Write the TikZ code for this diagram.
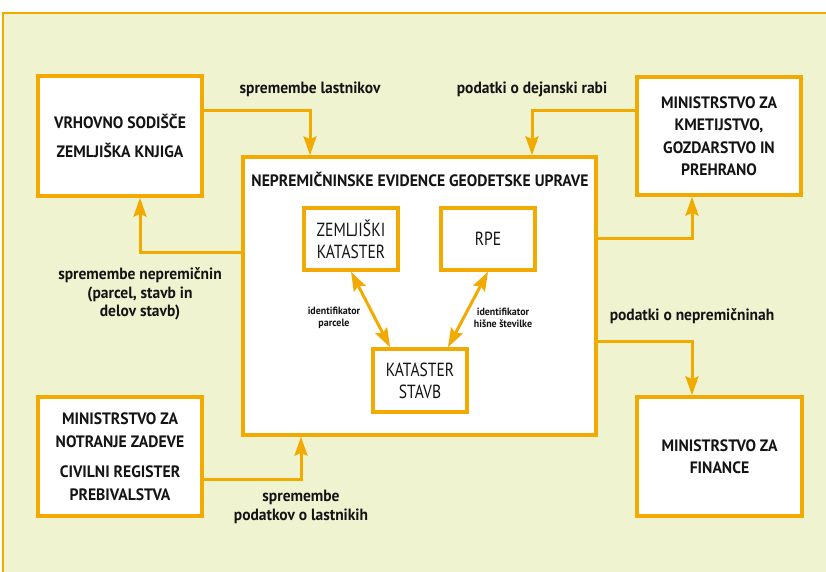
\documentclass[tikz,border=0pt]{standalone}
\usepackage{fontspec}
\usepackage{tikz}
\usetikzlibrary{arrows.meta}
\setmainfont{PT Sans}
\newfontfamily\labelfont[FakeStretch=0.95]{PT Sans}
\newfontfamily\thinfont[FakeStretch=0.82]{PT Sans}
\definecolor{gold}{RGB}{242,169,0}
\definecolor{paper}{RGB}{239,243,208}
\definecolor{ink}{RGB}{20,20,20}

\begin{document}
\begin{tikzpicture}[x=1pt,y=-1pt,
    outer/.style={draw=gold,line width=3.5pt,fill=white,inner sep=0pt,align=center,text=ink,
      font=\labelfont\bfseries\fontsize{16.5}{22.5}\selectfont},
    inner/.style={draw=gold,line width=3.5pt,fill=white,inner sep=0pt,minimum width=94pt,
      minimum height=62pt,align=center,text=ink,font=\thinfont\fontsize{19}{22}\selectfont},
    lbl/.style={align=center,text=ink,font=\labelfont\bfseries\fontsize{16.3}{18.5}\selectfont},
    small/.style={align=center,text=ink,font=\labelfont\bfseries\fontsize{10.5}{12}\selectfont},
    link/.style={draw=gold,line width=3pt,-{Stealth[length=19pt,width=13pt,inset=3pt]}},
    both/.style={draw=gold,line width=3pt,
      {Stealth[length=19pt,width=13pt,inset=3pt]}-{Stealth[length=19pt,width=13pt,inset=3pt]}}]
  \useasboundingbox (0,0) rectangle (826,572);
  \clip (0,0) rectangle (826,572);
  \draw[gold,line width=1.2pt,fill=paper] (3,13) rectangle (850,600);

  \node[outer,minimum width=164pt,minimum height=120pt] (vs) at (120,136)
    {VRHOVNO SODIŠČE\\[6.5pt]ZEMLJIŠKA KNJIGA};
  \node[outer,minimum width=164pt,minimum height=118pt] (mkgp) at (719,136)
    {MINISTRSTVO ZA\\KMETIJSTVO,\\GOZDARSTVO IN\\PREHRANO};
  \node[outer,minimum width=164pt,minimum height=119pt] (mnz) at (120,456.5)
    {MINISTRSTVO ZA\\NOTRANJE ZADEVE\\[8pt]CIVILNI REGISTER\\PREBIVALSTVA};
  \node[outer,minimum width=165pt,minimum height=119pt] (mf) at (719.5,456.5)
    {MINISTRSTVO ZA\\FINANCE};
  \node[outer,minimum width=353pt,minimum height=278pt] (gu) at (419.5,296) {};
  \node[outer,draw=none,fill=none] (naslov) at (420,179)
    {NEPREMIČNINSKE EVIDENCE GEODETSKE UPRAVE};

  \node[inner] (zk) at (351,239) {ZEMLJIŠKI\\KATASTER};
  \node[inner] (rpe) at (488,239) {RPE};
  \node[inner,minimum height=63pt] (ks) at (420,380.5) {KATASTER\\STAVB};

  \node[lbl] (lsl) at (310,89) {spremembe lastnikov};
  \node[lbl] (ldr) at (532,89) {podatki o dejanski rabi};
  \node[lbl] (lsn) at (140,294) {spremembe nepremičnin\\(parcel, stavb in\\delov stavb)};
  \node[lbl] (lsp) at (301,507) {spremembe\\podatkov o lastnikih};
  \node[lbl] (lnp) at (692,316) {podatki o nepremičninah};
  \node[small] (lip) at (334,318) {identifikator\\parcele};
  \node[small] (lih) at (503,318) {identifikator\\hišne številke};

  \draw[link] ([yshift=25pt]vs.east) -| (gu.north -| lsl);
  \draw[link] ([yshift=25pt]mkgp.west) -| (gu.north -| ldr);
  \draw[link] ([yshift=44pt]gu.west) -| (vs.south -| lsn);
  \draw[link] ([yshift=-22.5pt]mnz.east) -| (gu.south -| lsp);
  \draw[link] ([yshift=58pt]gu.east) -| (mkgp.south -| lnp);
  \draw[link] ([yshift=-45pt]gu.east) -| (mf.north -| lnp);
  \draw[both] (zk.south) -- ([xshift=-30pt]ks.north);
  \draw[both] (rpe.south) -- ([xshift=28pt]ks.north);
\end{tikzpicture}
\end{document}
